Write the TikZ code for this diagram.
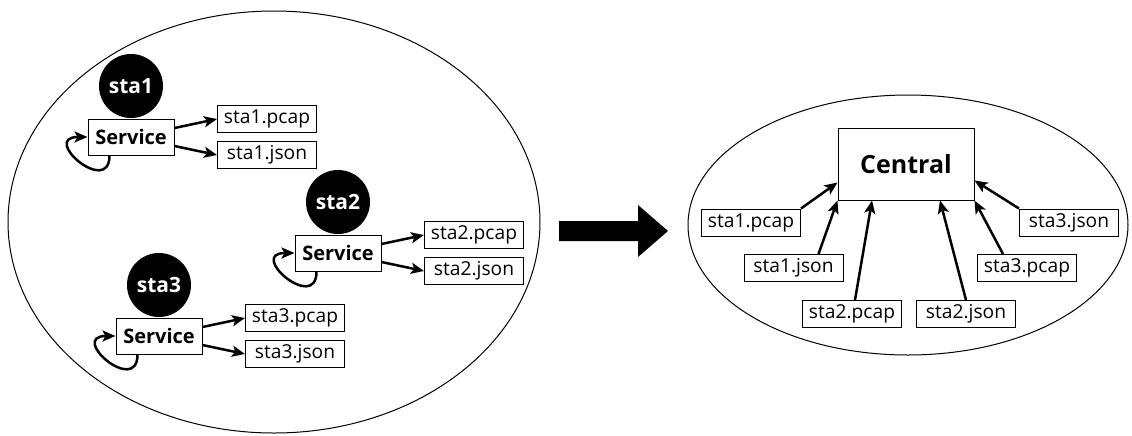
\documentclass[tikz,border=0pt]{standalone}
\usepackage{fontspec}
\setmainfont{Open Sans}
\usepackage{tikz}
\usetikzlibrary{arrows.meta,calc,positioning}
\newcommand{\stationgroup}[3]{%
  \node[stacircle] (sta#1) at (#2,#3-51) {sta#1};%
  \node[svcbox] (svc#1) at (#2,#3) {Service};%
  \node[filebox] (pcap#1) at (#2+136,#3-18) {sta#1.pcap};%
  \node[filebox] (json#1) at (#2+136,#3+18) {sta#1.json};%
  \draw[flow] ([yshift=4.5pt]svc#1.east) -- (pcap#1.west);%
  \draw[flow] ([yshift=-4.5pt]svc#1.east) -- (json#1.west);%
  \draw[flow] ([xshift=11pt]svc#1.south west) .. controls +(0,42) and +(-48,0) .. (svc#1.west);%
}

\begin{document}
\begin{tikzpicture}[x=0.5pt,y=-0.5pt,
  filebox/.style={draw,line width=0.5pt,inner xsep=2pt,inner ysep=1pt,minimum width=49.5pt,minimum height=13.5pt,font=\fontsize{9.6}{11}\selectfont},
  svcbox/.style={draw,fill=white,line width=0.5pt,minimum width=43pt,minimum height=18pt,font=\fontsize{10}{12}\selectfont\bfseries},
  stacircle/.style={circle,fill=black,text=white,minimum size=32pt,inner sep=0pt,font=\fontsize{10.5}{12}\selectfont\bfseries},
  centralbox/.style={draw,line width=0.5pt,minimum width=68pt,minimum height=36pt,font=\fontsize{12.5}{14}\selectfont\bfseries},
  flow/.style={line width=1.25pt,-{Stealth[length=6.5pt,width=5.5pt,inset=1.5pt]}}]
  \useasboundingbox (0,0) rectangle (1132,435);
  % stations
  \draw[line width=0.5pt] (274,222) ellipse [x radius=133pt,y radius=105.5pt];
  \stationgroup{1}{131}{137}
  \stationgroup{2}{338}{253}
  \stationgroup{3}{159}{336}
  % transfer
  \fill (559,221) -- (638,221) -- (638,205) -- (668,231) -- (638,257) -- (638,241) -- (559,241) -- cycle;
  % central
  \draw[line width=0.5pt] (908,225) ellipse [x radius=110pt,y radius=65pt];
  \node[centralbox] (cen) at (906,164) {Central};
  \node[filebox] (cp1) at (751,222.5) {sta1.pcap};
  \node[filebox] (cj1) at (793.5,268) {sta1.json};
  \node[filebox] (cp2) at (852,314) {sta2.pcap};
  \node[filebox] (cj2) at (966,314) {sta2.json};
  \node[filebox] (cp3) at (1027,268) {sta3.pcap};
  \node[filebox] (cj3) at (1069,222.5) {sta3.json};
  \draw[flow] (cp1.north east) -- ([yshift=9pt]cen.south west);
  \draw[flow] ([xshift=12.5pt]cj1.north) -- (cen.south west);
  \draw[flow] ([xshift=1.5pt]cp2.north) -- ([xshift=-17pt]cen.south);
  \draw[flow] (cj2.north) -- ([xshift=17pt]cen.south);
  \draw[flow] ([xshift=-12pt]cp3.north) -- (cen.south east);
  \draw[flow] (cj3.north west) -- ([yshift=10pt]cen.south east);
\end{tikzpicture}
\end{document}
